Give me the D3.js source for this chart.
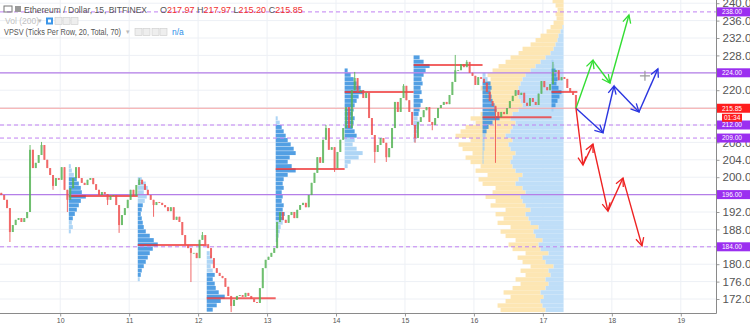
<!DOCTYPE html>
<html>
<head>
<meta charset="utf-8">
<script src="https://cdn.jsdelivr.net/npm/d3@7"></script>
<style>
body { margin: 0; background: #fff; overflow: hidden; }
svg { display: block; font-family: "Liberation Sans", Arial, sans-serif; }
</style>
</head>
<body>
<svg id="chart" width="750" height="326"></svg>
<script>
// ---- data ----
var firstHour = 9 + 3 / 24;   // first hourly candle: 9th, 03:00
var firstOpen = 196.4;
var closes = [
  195.9,194.8,192.9,187.4,189.0,190.2,190.6,189.7,190.6,192.0,
  206.3,202.1,203.3,205.1,207.4,204.0,202.1,200.5,198.0,199.8,
  199.4,202.3,197.1,194.8,197.5,199.8,202.3,199.8,198.7,198.2,
  199.4,199.8,198.4,197.1,195.9,196.6,196.1,194.8,195.7,195.9,
  193.6,189.0,191.3,192.9,194.8,197.1,195.7,198.2,199.4,198.4,
  197.1,195.9,194.8,193.6,194.3,194.1,193.6,193.1,192.2,193.1,
  190.2,190.9,189.7,186.7,184.4,183.7,182.6,182.6,181.4,185.6,
  186.7,184.6,183.7,181.4,179.1,178.0,177.3,176.8,174.8,172.7,
  170.4,171.8,172.7,172.9,172.5,173.4,172.7,172.0,171.3,171.1,
  174.5,179.1,181.0,181.7,182.6,183.7,189.7,192.0,190.2,189.5,
  191.3,192.0,190.6,192.5,193.6,194.1,193.1,195.9,198.7,201.0,
  204.6,203.3,208.6,211.3,206.3,206.9,202.1,205.8,208.6,211.3,
  216.1,211.3,220.0,222.8,219.6,220.0,218.2,219.4,213.6,209.7,
  205.8,207.4,209.0,207.9,204.6,206.7,211.3,217.3,215.0,218.2,
  221.0,217.7,215.0,212.0,209.0,212.7,213.8,215.4,216.1,212.7,
  212.0,213.6,215.9,216.6,217.3,216.8,218.9,221.9,224.6,224.6,
  226.0,225.3,226.5,224.0,223.3,221.2,223.0,222.6,221.7,219.6,
  217.5,216.4,215.0,213.8,215.0,214.5,215.9,217.5,218.7,220.0,
  218.9,219.4,217.1,216.4,218.2,217.3,216.6,219.2,222.1,220.7,
  220.0,221.4,224.2,224.6,222.3,223.0,222.6,220.5,219.6,218.9,
  215.85
];
// long wicks [candle index, price]
var highs = [[10,207.4],[14,208.1],[48,199.8],[70,187.4],[113,212.0],[123,224.2],
             [140,221.4],[158,228.1],[162,226.9],[192,226.5]];
var lows = [[3,185.1],[18,197.1],[23,192.0],[37,193.6],[41,187.2],[53,190.9],[66,175.9],
            [80,169.0],[116,201.2],[130,203.3],[134,203.5],[144,207.9],[150,210.8],[172,203.3]];

// session volume profiles (rows of 1.0, from sessionLow upwards)
var sessionDay = [10, 11, 12, 13, 14, 15, 16, 17];
var sessionLow = [187, 176, 169, 185, 202, 208, 203, 215];
var sessionVol = [
  [2,4,3,4,6,8,10,12,17,13,12,10,8,5,3,2],
  [2,3,4,6,8,10,12,15,20,16,12,8,6,5,4,3,4,5,7,9,6,10,8,4],
  [6,10,14,18,12,9,8,6,8,6,4,7,5,3],
  [2,3,4,5,7,8,9,7,8,6,7,6,8,7,8,12,20,16,12,14,20,18,15,12,10,8,6,4,2],
  [3,6,14,18,12,8,10,12,10,8,9,10,8,9,10,12,14,19,16,12,9,6,3],
  [2,3,4,5,6,4,5,6,7,9,6,8,7,9,8,10,12,16,10,6],
  [1,1,1,2,2,2,3,4,6,10,17,13,14,12,10,9,8,9,8,5,3],
  [2,4,6,8,10,7,5,6,5,4,3,2]
];
var sessionPoc = [195.7, 184.4, 172.2, 201.9, 219.6, 225.8, 213.8, 219.6];
var sessionVaLow = [190, 177, 169, 190, 209, 214, 210, 216];
var sessionVaHigh = [199, 193, 177, 211, 224, 227, 221, 224];

// fixed range volume profile, rows 169..240, anchored on the right
var fvLow = 169;
var fvRightDay = 17.3;
var fvUp = [18,21,23,20,23,18,15,18,13,15,10,18,21,15,23,25,21,28,30,25,33,35,38,33,38,41,43,38,41,48,
            45,41,48,51,53,51,48,53,55,51,58,53,51,48,53,51,45,41,43,45,48,45,43,41,38,33,28,23,18,13,
            10,8,6,5,3,1,0,0,0,0,0,0];
var fvDown = [45,45,35,33,37,33,28,30,25,28,23,23,25,23,28,30,27,30,33,28,33,25,30,25,35,27,35,33,27,33,
              40,35,40,32,40,47,43,48,50,42,50,50,47,40,40,32,30,29,30,33,33,38,37,32,38,38,37,35,35,32,
              31,25,22,18,14,12,10,7,8,6,8,11];

// horizontal levels
var levels = [238, 224, 212, 209, 196, 184];
var levelDashed = [true, false, true, true, false, true];
var lastPrice = 215.85;
var countdown = '01:34';

// projection arrows [day, price]
var greenPath = [[17.48,215.85],[17.725,226.9],[17.972,221.66],[18.248,237.3]];
var bluePath = [[17.48,215.85],[17.871,210.2],[18.031,220.97],[18.393,215.0],[18.668,224.9]];
var redPath = [[17.48,215.85],[17.581,202.8],[17.725,207.6],[17.943,192.2],[18.161,199.8],[18.437,184.2]];
var cursorAt = [18.48, 223.3];

var dayTicks = d3.range(10, 20);
var priceTicks = d3.range(172, 241, 4);

// ---- chart ----
var plotRight = 716, plotBottom = 313;
var svg = d3.select('#chart');

var x = d3.scaleLinear().domain([10, 19]).range([60.2, 680.8]);
var y = d3.scaleLinear().domain([172, 240]).range([299, 3.2]);
var volW = d3.scaleLinear().domain([0, 100]).range([0, 100]);
var hour = 1 / 24;

var defs = svg.append('defs');
defs.append('clipPath').attr('id', 'plotclip')
  .append('rect').attr('width', plotRight).attr('height', plotBottom);

var plot = svg.append('g').attr('clip-path', 'url(#plotclip)');

// grid
plot.selectAll('.vgrid').data(dayTicks).enter().append('line')
  .attr('x1', function(d) { return x(d); }).attr('x2', function(d) { return x(d); })
  .attr('y1', 0).attr('y2', plotBottom)
  .style('stroke', '#edf0f5');
plot.selectAll('.hgrid').data(priceTicks).enter().append('line')
  .attr('x1', 0).attr('x2', plotRight)
  .attr('y1', function(d) { return y(d); }).attr('y2', function(d) { return y(d); })
  .style('stroke', '#edf0f5');

// fixed range profile
var fvRight = x(fvRightDay);
plot.selectAll('.fvdown').data(fvDown).enter().append('rect')
  .attr('x', function(d, i) { return fvRight - volW(fvUp[i]) - volW(d); })
  .attr('y', function(d, i) { return y(fvLow + i + 1); })
  .attr('width', function(d) { return volW(d); })
  .attr('height', y(0) - y(1))
  .style('fill', '#fde6b3');
plot.selectAll('.fvup').data(fvUp).enter().append('rect')
  .attr('x', function(d) { return fvRight - volW(d); })
  .attr('y', function(d, i) { return y(fvLow + i + 1); })
  .attr('width', function(d) { return volW(d); })
  .attr('height', y(0) - y(1))
  .style('fill', '#bfdef8');

// session profiles
sessionVol.forEach(function(rows, s) {
  var x0 = x(sessionDay[s] + 3 * hour);
  plot.append('g').selectAll('rect').data(rows).enter().append('rect')
    .attr('x', x0)
    .attr('y', function(d, i) { return y(sessionLow[s] + i + 1); })
    .attr('width', function(d) { return volW(d); })
    .attr('height', y(0) - y(1) - 0.4)
    .style('fill', function(d, i) {
      var p = sessionLow[s] + i;
      return (p >= sessionVaLow[s] && p <= sessionVaHigh[s]) ? '#3f95e0' : '#a5d0f4';
    })
    .style('opacity', 0.9);
});

// levels
levels.forEach(function(lv, i) {
  plot.append('line')
    .attr('x1', 0).attr('x2', plotRight)
    .attr('y1', y(lv)).attr('y2', y(lv))
    .style('stroke', levelDashed[i] ? '#c080f2' : '#b47ee8')
    .style('stroke-width', levelDashed[i] ? 1 : 1.2)
    .style('stroke-dasharray', levelDashed[i] ? '4,3' : null);
});
plot.append('line')
  .attr('x1', 0).attr('x2', plotRight)
  .attr('y1', y(lastPrice)).attr('y2', y(lastPrice))
  .style('stroke', '#f5a3a3');

// POC lines
sessionPoc.forEach(function(p, s) {
  var t0 = sessionDay[s] + 3 * hour;
  var t1 = Math.min(t0 + 1, firstHour + closes.length * hour);
  plot.append('line')
    .attr('x1', x(t0)).attr('x2', x(t1))
    .attr('y1', y(p)).attr('y2', y(p))
    .style('stroke', '#ee3030').style('stroke-width', 2).style('opacity', 0.75);
});

// candles
var hiMap = {}, loMap = {};
highs.forEach(function(h) { hiMap[h[0]] = h[1]; });
lows.forEach(function(l) { loMap[l[0]] = l[1]; });
var candles = closes.map(function(c, i) {
  var o = i === 0 ? firstOpen : closes[i - 1];
  return {
    t: firstHour + (i + 0.5) * hour, o: o, c: c,
    h: Math.max(o, c, hiMap[i] || 0),
    l: Math.min(o, c, loMap[i] || 999)
  };
});
var cg = plot.append('g').style('opacity', 0.85);
cg.selectAll('line').data(candles).enter().append('line')
  .attr('x1', function(d) { return x(d.t); }).attr('x2', function(d) { return x(d.t); })
  .attr('y1', function(d) { return y(d.h); }).attr('y2', function(d) { return y(d.l); })
  .style('stroke', function(d) { return d.c >= d.o ? '#56b456' : '#ef5050'; });
cg.selectAll('rect').data(candles).enter().append('rect')
  .attr('x', function(d) { return x(d.t) - 1; })
  .attr('width', 2)
  .attr('y', function(d) { return y(Math.max(d.o, d.c)); })
  .attr('height', function(d) { return Math.max(0.8, Math.abs(y(d.o) - y(d.c))); })
  .style('fill', function(d) { return d.c >= d.o ? '#56b456' : '#ef5050'; });

// projection arrows
function arrows(path, color, id) {
  defs.append('marker').attr('id', id)
    .attr('viewBox', '-10 -6 12 12').attr('refX', 0).attr('refY', 0)
    .attr('markerUnits', 'userSpaceOnUse').attr('markerWidth', 12).attr('markerHeight', 12)
    .attr('orient', 'auto')
    .append('path').attr('d', 'M-8,-4L0,0L-8,4')
    .style('fill', 'none').style('stroke', color).style('stroke-width', 1.3);
  var segs = d3.pairs(path);
  plot.append('g').selectAll('line').data(segs).enter().append('line')
    .attr('x1', function(d) { return x(d[0][0]); }).attr('y1', function(d) { return y(d[0][1]); })
    .attr('x2', function(d) { return x(d[1][0]); }).attr('y2', function(d) { return y(d[1][1]); })
    .style('stroke', color).style('stroke-width', 1.4)
    .attr('marker-end', 'url(#' + id + ')');
}
arrows(greenPath, '#33dd33', 'ag');
arrows(bluePath, '#2a35e0', 'ab');
arrows(redPath, '#ee2222', 'ar');

// cursor
var cx = x(cursorAt[0]), cy = y(cursorAt[1]);
plot.append('path')
  .attr('d', 'M' + (cx - 5) + ',' + cy + 'H' + (cx + 5) + 'M' + cx + ',' + (cy - 5) + 'V' + (cy + 5))
  .style('stroke', '#9a9a9a').style('stroke-width', 1.2);

// ---- axes ----
var yAxis = d3.axisRight(y).tickValues(priceTicks).tickSize(3).tickFormat(d3.format('.2f'));
var yg = svg.append('g').attr('transform', 'translate(' + (plotRight + 0.5) + ',0)').call(yAxis);
yg.select('.domain').remove();
yg.selectAll('line').style('stroke', '#999');
yg.selectAll('text').style('font-size', '11.5px').style('fill', '#555')
  .style('font-family', '"Liberation Sans", Arial, sans-serif');

var xAxis = d3.axisBottom(x).tickValues(dayTicks).tickSize(3).tickFormat(d3.format('d'));
var xg = svg.append('g').attr('transform', 'translate(0,' + (plotBottom + 0.5) + ')').call(xAxis);
xg.select('.domain').remove();
xg.selectAll('line').style('stroke', '#999');
xg.selectAll('text').style('font-size', '7px').style('fill', '#555')
  .style('font-family', '"Liberation Sans", Arial, sans-serif').attr('dy', '0.55em');

svg.append('line').attr('x1', plotRight + 0.5).attr('x2', plotRight + 0.5)
  .attr('y1', 0).attr('y2', plotBottom + 0.5).style('stroke', '#8a8a8a');
svg.append('line').attr('x1', 0).attr('x2', plotRight + 0.5)
  .attr('y1', plotBottom + 0.5).attr('y2', plotBottom + 0.5).style('stroke', '#8a8a8a');

// level labels
function tag(v, txt, bg, w) {
  var g = svg.append('g');
  g.append('rect').attr('x', plotRight + 1).attr('y', y(v) - 4.5)
    .attr('width', w).attr('height', 9).style('fill', bg);
  g.append('text').attr('x', plotRight + 6).attr('y', y(v) + 2.3)
    .text(txt).style('font-size', '6.5px').style('fill', '#fff');
}
levels.forEach(function(lv) { tag(lv, d3.format('.2f')(lv), '#9b2ff0', 34); });
tag(lastPrice, d3.format('.2f')(lastPrice), '#ff1d1d', 34);
svg.append('rect').attr('x', plotRight + 6).attr('y', y(lastPrice) + 5.5)
  .attr('width', 20).attr('height', 8).style('fill', '#ff1d1d');
svg.append('text').attr('x', plotRight + 8).attr('y', y(lastPrice) + 11.7)
  .text(countdown).style('font-size', '6.5px').style('fill', '#fff');

// ---- header ----
var hd = svg.append('g').style('font-size', '9px');
hd.append('rect').attr('x', 4).attr('y', 6).attr('width', 8).attr('height', 6)
  .style('fill', 'none').style('stroke', '#777');
hd.append('rect').attr('x', 15).attr('y', 6).attr('width', 6).attr('height', 6).style('fill', '#999');
hd.append('text').attr('x', 24).attr('y', 13).text('Ethereum / Dollar, 15, BITFINEX').style('fill', '#555')
  .attr('textLength', 123).attr('lengthAdjust', 'spacingAndGlyphs');
var ohlc = hd.append('text').attr('x', 160).attr('y', 13);
[['O', '217.97'], [' H', '217.97'], [' L', '215.20'], [' C', '215.85']].forEach(function(p) {
  ohlc.append('tspan').text(p[0]).style('fill', '#555');
  ohlc.append('tspan').text(p[1]).style('fill', '#f03030');
});

hd.append('text').attr('x', 5).attr('y', 24).text('Vol (200)').style('fill', '#c2c2c2').style('font-size', '8.5px');
hd.append('text').attr('x', 38).attr('y', 23).text('▾').style('fill', '#bbb').style('font-size', '7px');
hd.append('rect').attr('x', 46).attr('y', 17.5).attr('width', 7).attr('height', 7).style('fill', '#3d96e8');
hd.append('rect').attr('x', 48).attr('y', 19.5).attr('width', 3).attr('height', 3).style('fill', '#fff');
[55, 63, 71].forEach(function(bx) {
  hd.append('rect').attr('x', bx).attr('y', 17.5).attr('width', 7).attr('height', 7)
    .style('fill', '#eee').style('stroke', '#ccc').style('stroke-width', 0.6);
});

hd.append('text').attr('x', 4).attr('y', 35).text('VPSV (Ticks Per Row, 20, Total, 70)')
  .style('fill', '#555').style('font-size', '8.5px')
  .attr('textLength', 117).attr('lengthAdjust', 'spacingAndGlyphs');
hd.append('text').attr('x', 126).attr('y', 34).text('▾').style('fill', '#bbb').style('font-size', '7px');
[135, 143, 152, 160].forEach(function(bx) {
  hd.append('rect').attr('x', bx).attr('y', 28.5).attr('width', 7).attr('height', 7)
    .style('fill', '#eee').style('stroke', '#ccc').style('stroke-width', 0.6);
});
hd.append('text').attr('x', 172).attr('y', 35).text('n/a').style('fill', '#2d8fe8').style('font-size', '8.5px');
</script>
</body>
</html>
